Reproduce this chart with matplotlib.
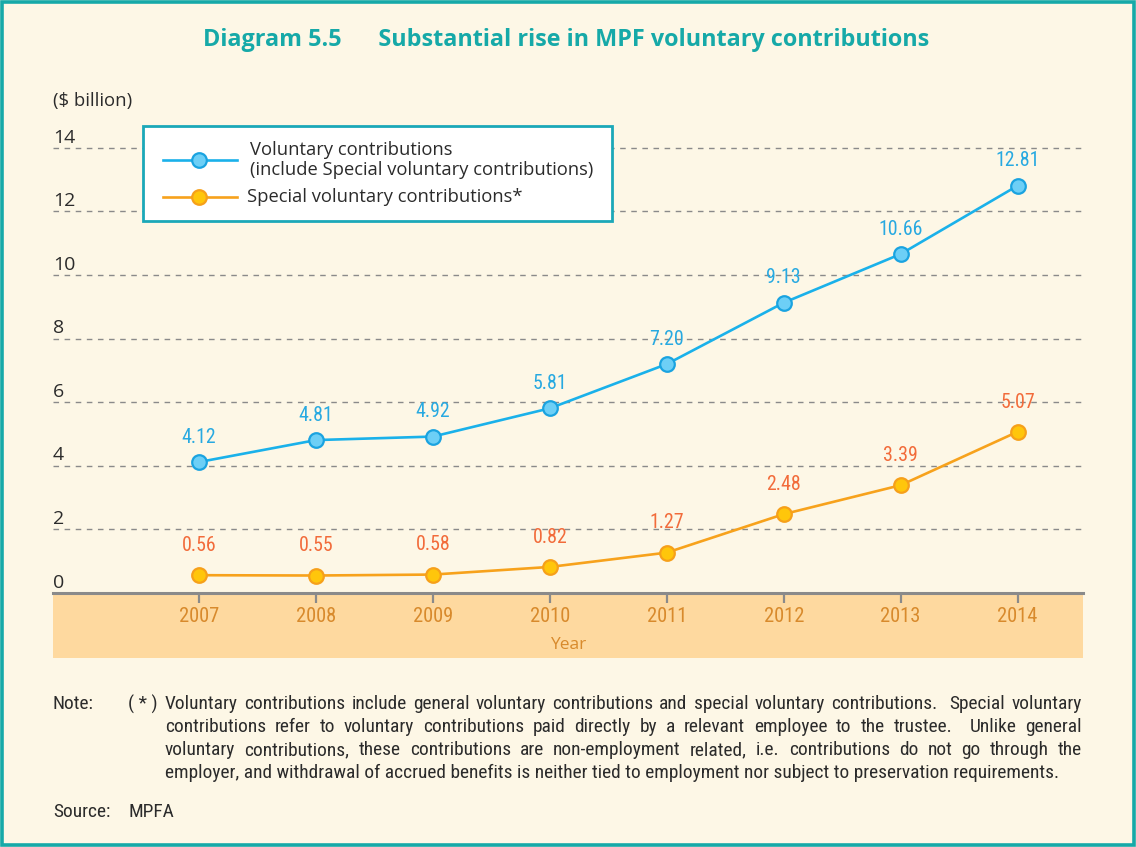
import matplotlib
matplotlib.use("Agg")
import matplotlib.pyplot as plt
from matplotlib import font_manager
from matplotlib.patches import Rectangle
from matplotlib.lines import Line2D

# ---------------- data ----------------
years = [2007, 2008, 2009, 2010, 2011, 2012, 2013, 2014]
voluntary = [4.12, 4.81, 4.92, 5.81, 7.20, 9.13, 10.66, 12.81]
special = [0.56, 0.55, 0.58, 0.82, 1.27, 2.48, 3.39, 5.07]
voluntary_labels = ["4.12", "4.81", "4.92", "5.81", "7.20", "9.13", "10.66", "12.81"]
special_labels = ["0.56", "0.55", "0.58", "0.82", "1.27", "2.48", "3.39", "5.07"]
y_ticks = [0, 2, 4, 6, 8, 10, 12, 14]
legend_labels = ["Voluntary contributions\n(include Special voluntary contributions)",
                 "Special voluntary contributions*"]
title_text = "Diagram 5.5      Substantial rise in MPF voluntary contributions"
note_lines = [
    "Voluntary contributions include general voluntary contributions and special voluntary contributions.  Special voluntary",
    "contributions refer to voluntary contributions paid directly by a relevant employee to the trustee.  Unlike general",
    "voluntary contributions, these contributions are non-employment related, i.e. contributions do not go through the",
    "employer, and withdrawal of accrued benefits is neither tied to employment nor subject to preservation requirements.",
]

# ---------------- fonts ----------------
entries = [(f.name, f.stretch) for f in font_manager.fontManager.ttflist]
names = set(n for n, _ in entries)
NARROW_KW = None
for cand in ["Liberation Sans Narrow", "Roboto Condensed", "Open Sans Condensed", "Noto Sans Condensed"]:
    if cand in names:
        NARROW_KW = dict(family=[cand, "DejaVu Sans"])
        break
if NARROW_KW is None:
    cond = [n for n, s in entries if str(s) in ("condensed", "semi-condensed", "75", "87", "62", "50")]
    if "DejaVu Sans" in cond:
        NARROW_KW = dict(family=["DejaVu Sans"], stretch="condensed")
    elif cond:
        NARROW_KW = dict(family=[cond[0], "DejaVu Sans"], stretch="condensed")
    elif "Roboto" in names:
        NARROW_KW = dict(family=["Roboto", "DejaVu Sans"])
    else:
        NARROW_KW = dict(family=["Liberation Sans", "DejaVu Sans"])
NARROW_SCALE = 1.0 if NARROW_KW["family"][0] in ("Liberation Sans Narrow", "Roboto Condensed") else 0.93

SANS = ["Open Sans", "DejaVu Sans"]

# ---------------- style ----------------
W, H = 1136, 847
BG = "#fdf7e6"
TEAL = "#16a9a8"
BLUE_LINE = "#1ab1ea"
BLUE_FACE = "#6dcff6"
BLUE_EDGE = "#1aa3e0"
BLUE_TXT = "#27a9e1"
OR_LINE = "#f7a21c"
OR_FACE = "#ffc60b"
OR_EDGE = "#f6a01a"
OR_TXT = "#f26b3a"
TICK_TXT = "#d88a2c"
BAND = "#fed99f"
GRAY = "#8a8a8a"
DARK = "#2b2b2b"

fig = plt.figure(figsize=(W / 100, H / 100), dpi=100)
fig.patch.set_facecolor(BG)

def fx(px):
    return px / W

def fy(py):
    return 1 - py / H

# axes: x from 53 to 1083 px, y=0 at 593 px, y=14.5 at 132 px
ax_left, ax_right, ax_bottom, ax_top = 53, 1083, 593, 132
ax = fig.add_axes([fx(ax_left), fy(ax_bottom), (ax_right - ax_left) / W, (ax_bottom - ax_top) / H])
ax.set_facecolor("none")
ax.set_xlim(2005.75, 2014.56)
ax.set_ylim(0, 14.5)

# orange band under the axis
band = Rectangle((fx(ax_left), fy(658)), (ax_right - ax_left) / W, (658 - 593) / H,
                 transform=fig.transFigure, facecolor=BAND, edgecolor="none", zorder=-1)
fig.add_artist(band)

# gridlines + y labels
for v in y_ticks:
    if v > 0:
        ax.axhline(v, color=GRAY, lw=1.0, ls=(0, (4, 4)), zorder=1)
    ax.annotate(str(v), xy=(0, v), xycoords=("axes fraction", "data"),
                xytext=(0, 1), textcoords="offset points", ha="left", va="bottom",
                fontsize=14, color=DARK, family=SANS)
ax.set_yticks([])

for s in ["top", "right", "left"]:
    ax.spines[s].set_visible(False)
ax.spines["bottom"].set_color(GRAY)
ax.spines["bottom"].set_linewidth(2.2)

ax.set_xticks(years)
ax.set_xticklabels([str(y) for y in years], fontsize=14.8 * NARROW_SCALE, color=TICK_TXT, **NARROW_KW)
ax.tick_params(axis="x", direction="out", length=7, width=1.6, color=GRAY, pad=3)
ax.set_xlabel("Year", family=SANS, fontsize=12.5, color=TICK_TXT, labelpad=8)

# lines
ax.plot(years, voluntary, color=BLUE_LINE, lw=1.9, marker="o", ms=10.5,
        mfc=BLUE_FACE, mec=BLUE_EDGE, mew=1.6, zorder=3, clip_on=False)
ax.plot(years, special, color=OR_LINE, lw=1.9, marker="o", ms=10.5,
        mfc=OR_FACE, mec=OR_EDGE, mew=1.6, zorder=3, clip_on=False)

LBL_FS = 14.3 * NARROW_SCALE
for x, v, t in zip(years, voluntary, voluntary_labels):
    ax.annotate(t, xy=(x, v), xytext=(0, 11), textcoords="offset points",
                ha="center", va="bottom", fontsize=LBL_FS, color=BLUE_TXT, zorder=4, **NARROW_KW)
for x, v, t in zip(years, special, special_labels):
    ax.annotate(t, xy=(x, v), xytext=(0, 14.5), textcoords="offset points",
                ha="center", va="bottom", fontsize=LBL_FS, color=OR_TXT, zorder=4, **NARROW_KW)

# legend (manual box)
lg = Rectangle((fx(143), fy(221)), (612 - 143) / W, (221 - 126) / H, transform=fig.transFigure,
               facecolor="white", edgecolor="#1ba8b8", lw=2.0, zorder=5)
fig.add_artist(lg)
for (yy, lc, fc, ec) in [(160, BLUE_LINE, BLUE_FACE, BLUE_EDGE), (197, OR_LINE, OR_FACE, OR_EDGE)]:
    fig.add_artist(Line2D([fx(163), fx(237)], [fy(yy), fy(yy)], transform=fig.transFigure,
                          color=lc, lw=1.9, zorder=6))
    fig.add_artist(Line2D([fx(199)], [fy(yy)], transform=fig.transFigure, marker="o", ms=10.5,
                          mfc=fc, mec=ec, mew=1.6, zorder=7))
fig.text(fx(250), fy(160), legend_labels[0], ha="left", va="center", fontsize=13.2, color=DARK,
         family=SANS, linespacing=1.2, zorder=8)
fig.text(fx(247), fy(197), legend_labels[1], ha="left", va="center", fontsize=13.2, color=DARK,
         family=SANS, zorder=8)

# title and unit
fig.text(fx(566), fy(40), title_text, ha="center", va="center", fontsize=16.8, fontweight="bold",
         color=TEAL, family=SANS)
fig.text(fx(53), fy(101), "($ billion)", ha="left", va="center", fontsize=13.3, color=DARK, family=SANS)

# notes
renderer = fig.canvas.get_renderer()
x0, x1 = 165, 1082
# pick the note font size so that the last (unjustified) line has its natural width
probe = fig.text(0, 0, note_lines[-1], fontsize=12.5, **NARROW_KW)
pw = probe.get_window_extent(renderer).width
probe.remove()
NOTE_FS = 12.5 * (1065 - x0) / pw

fig.text(fx(53), fy(704), "Note:", ha="left", va="center", fontsize=NOTE_FS, color=DARK, **NARROW_KW)
fig.text(fx(128), fy(704), "( * )", ha="left", va="center", fontsize=NOTE_FS, color=DARK, **NARROW_KW)
fig.text(fx(53), fy(812), "Source:", ha="left", va="center", fontsize=NOTE_FS, color=DARK, **NARROW_KW)
fig.text(fx(128), fy(812), "MPFA", ha="left", va="center", fontsize=NOTE_FS, color=DARK, **NARROW_KW)

note_y = [704, 727, 750, 773]
for i, (line, yy) in enumerate(zip(note_lines, note_y)):
    if i == len(note_lines) - 1:
        fig.text(fx(x0), fy(yy), line, ha="left", va="center", fontsize=NOTE_FS, color=DARK, **NARROW_KW)
        continue
    tokens = line.split(" ")
    words = [w for w in tokens if w]
    texts = [fig.text(0, fy(yy), w, ha="left", va="center", fontsize=NOTE_FS, color=DARK, **NARROW_KW)
             for w in words]
    widths = [t.get_window_extent(renderer).width for t in texts]
    ngaps = len(tokens) - 1
    gap = (x1 - x0 - sum(widths)) / ngaps
    cur = x0
    wi = 0
    for k, tok in enumerate(tokens):
        if tok:
            texts[wi].set_x(fx(cur))
            cur += widths[wi]
            wi += 1
        if k < ngaps:
            cur += gap

# outer frame
frame = Rectangle((fx(2), fy(845)), (W - 4) / W, (845 - 2) / H, transform=fig.transFigure,
                  facecolor="none", edgecolor=TEAL, lw=2.6, zorder=10)
fig.add_artist(frame)

fig.savefig("out.png", dpi=100, facecolor=BG)
